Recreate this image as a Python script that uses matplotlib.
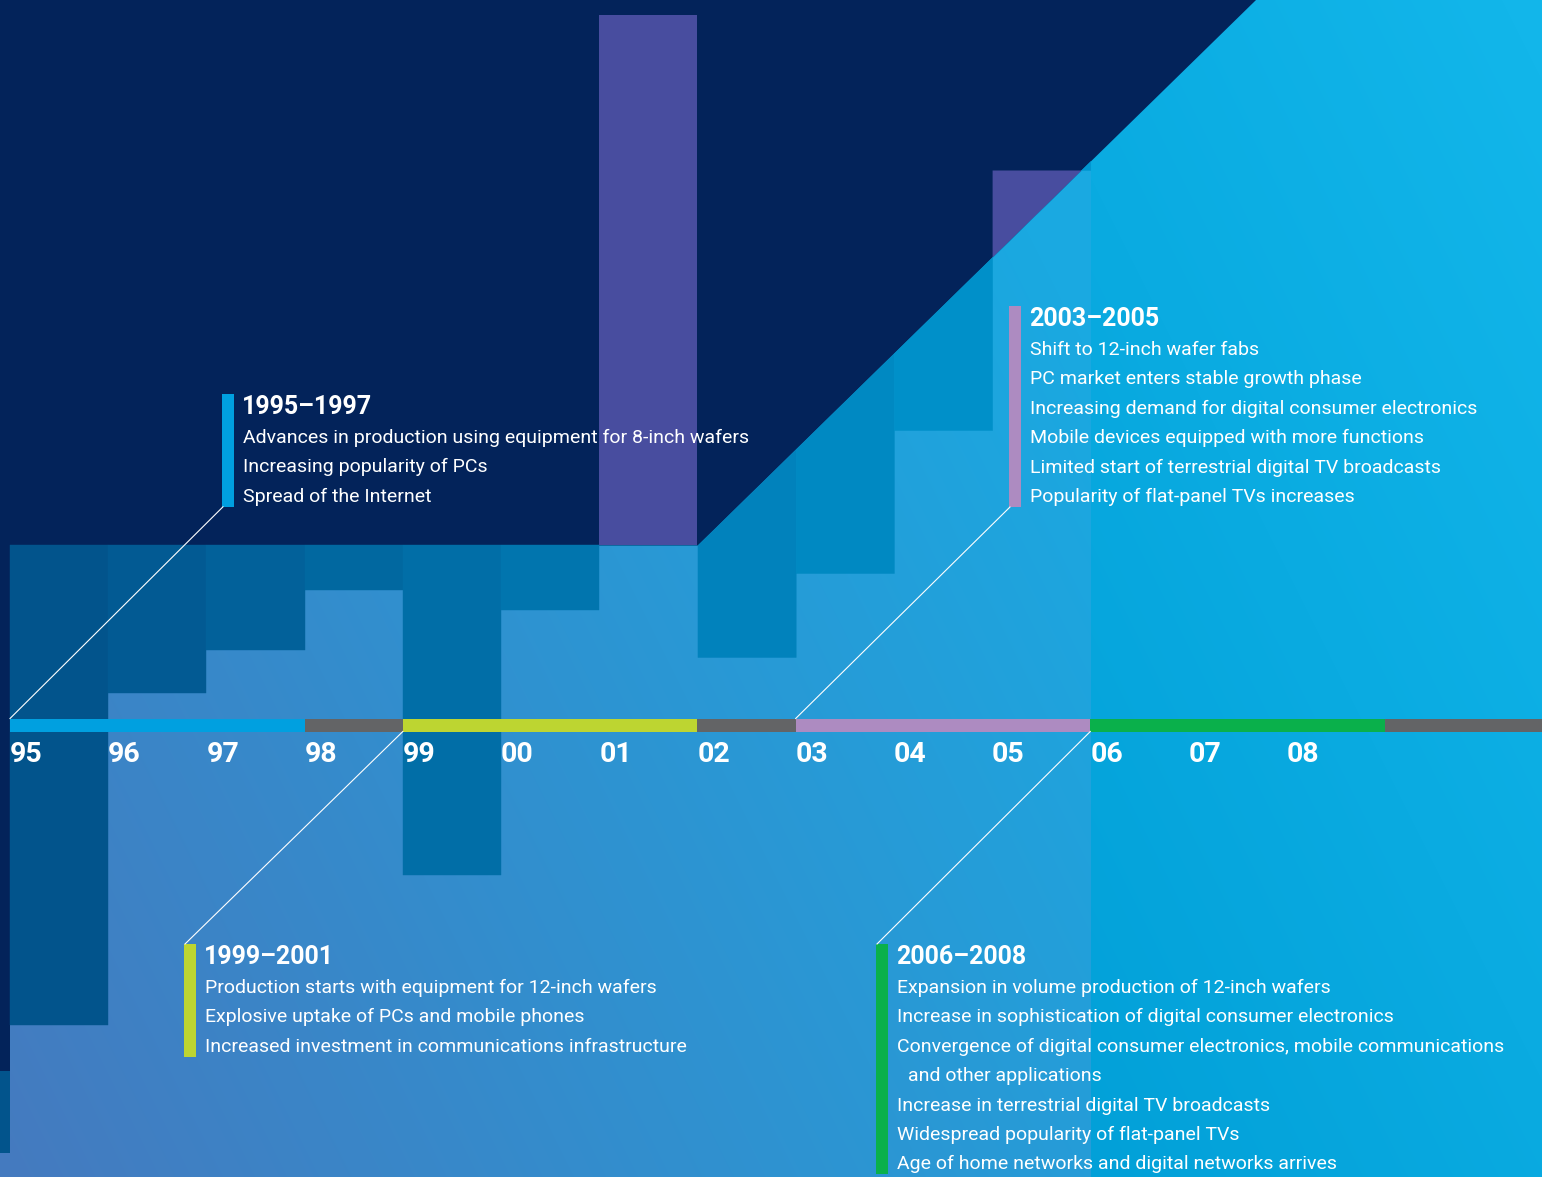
import numpy as np
import matplotlib
matplotlib.use("Agg")
import matplotlib.pyplot as plt
from matplotlib.colors import LinearSegmentedColormap, to_rgb

plt.rcParams['font.family'] = ['Roboto', 'DejaVu Sans']

# datos
years = ['95', '96', '97', '98', '99', '00', '01', '02', '03', '04', '05', '06', '07', '08']
# nivel de cada barra clara (0 = linea de tiempo), 95 a 05
bar_levels = [-300, 32, 75, 135, -150, 115, 710, 68, 152, 295, 555]
band_level = 180      # techo de la franja oscura
band_slope = 96       # subida por anio de la diagonal
band_break = 7        # la diagonal empieza en 02
lead_navy_level = -346
lead_dark_level = -428
forecast_start = 11   # desde 06 el fondo cambia

seg_start = [0, 3, 4, 7, 8, 11, 14]
seg_end = [3, 4, 7, 8, 11, 14, 16]
seg_colors = ['#00a0e0', '#636466', '#bdd531', '#636466', '#ad8bc1', '#0ab04b', '#636466']

block_titles = ['1995–1997', '1999–2001', '2003–2005', '2006–2008']
block_items = [
    ['Advances in production using equipment for 8-inch wafers',
     'Increasing popularity of PCs',
     'Spread of the Internet'],
    ['Production starts with equipment for 12-inch wafers',
     'Explosive uptake of PCs and mobile phones',
     'Increased investment in communications infrastructure'],
    ['Shift to 12-inch wafer fabs',
     'PC market enters stable growth phase',
     'Increasing demand for digital consumer electronics',
     'Mobile devices equipped with more functions',
     'Limited start of terrestrial digital TV broadcasts',
     'Popularity of flat-panel TVs increases'],
    ['Expansion in volume production of 12-inch wafers',
     'Increase in sophistication of digital consumer electronics',
     'Convergence of digital consumer electronics, mobile communications',
     ' and other applications',
     'Increase in terrestrial digital TV broadcasts',
     'Widespread popularity of flat-panel TVs',
     'Age of home networks and digital networks arrives'],
]
block_colors = ['#00a0e0', '#bdd531', '#ad8bc1', '#0ab04b']
block_anchor = [0, 4, 8, 11]   # anio donde arranca cada periodo

navy = '#03235a'
purple = '#484d9f'

# posiciones en pixeles
W, H = 1542, 1177
PX0, COLW, Y0 = 10, 98.21, 725


def dx(x):
    return (x - PX0) / COLW


def dy(y):
    return Y0 - y


def band_top(c):
    return band_level + band_slope * np.maximum(0, c - band_break)


fig = plt.figure(figsize=(W / 100, H / 100), dpi=100)
ax = fig.add_axes([0, 0, 1, 1])
ax.axis('off')
xl0, xl1 = dx(0), dx(W)
yl0, yl1 = dy(H), dy(0)

# fondo degradado
yy, xx = np.mgrid[0:H, 0:W].astype(float)
t = np.clip((xx + (H - yy) * 0.5) / 1500, 0, 1)[..., None]
c0, c1 = np.array(to_rgb('#457abf')), np.array(to_rgb('#1aa9e1'))
img = c0 + t * (c1 - c0)
t2 = np.clip(((xx - (PX0 + forecast_start * COLW)) + (H - yy) * 0.5) / 1000, 0, 1)[..., None]
r0, r1 = np.array(to_rgb('#02a0d8')), np.array(to_rgb('#12b6ea'))
img2 = r0 + t2 * (r1 - r0)
right = xx >= PX0 + forecast_start * COLW
img[right] = img2[right]
ax.imshow(img, extent=(xl0, xl1, yl0, yl1), aspect='auto', zorder=0, interpolation='bilinear')

# zona azul marino arriba
xs = np.linspace(xl0, xl1, 1500)
ax.fill_between(xs, np.minimum(band_top(xs), yl1 + 20), yl1 + 20, color=navy, lw=0, zorder=1)
ax.fill_between([xl0 - 1, 0], lead_navy_level, yl1 + 20, color=navy, lw=0, zorder=1)

# franja oscura y barras
dark_cmap = LinearSegmentedColormap.from_list('dark', ['#02548c', '#0096d0'])
ax.fill_between([xl0 - 1, 0], lead_dark_level, lead_navy_level, color=dark_cmap(0), lw=0, zorder=1)
for c, lev in enumerate(bar_levels):
    xc = np.linspace(c, c + 1, 200)
    top = band_top(xc)
    col = dark_cmap(c / (len(bar_levels) - 1))
    ax.fill_between(xc, np.minimum(lev, top), top, color=col, lw=0.3, edgecolor=col, zorder=2)
    if np.any(lev > top):
        ax.fill_between(xc, top, np.maximum(lev, top), color=purple, lw=0, zorder=2)

# linea de tiempo
ax.broken_barh([(s, e - s) for s, e in zip(seg_start, seg_end)], (-6.5, 13),
               facecolors=seg_colors, zorder=4)
for i, lab in enumerate(years):
    ax.text(i, -30, lab, ha='left', va='center', fontsize=20.5, weight='bold',
            color='white', zorder=5)

# bloques de texto
block_pos = [(222, 394), (184, 944), (1009, 306), (876, 944)]
for k in range(4):
    bx, btop = block_pos[k]
    items = block_items[k]
    ty = btop + 13
    ys = [ty + 31 + 29.4 * j for j in range(len(items))]
    bbot = ys[-1] + 10
    ax.fill_between([dx(bx), dx(bx + 12)], dy(bbot), dy(btop), color=block_colors[k], lw=0, zorder=4)
    ax.text(dx(bx + 20), dy(ty), block_titles[k], ha='left', va='center', fontsize=18,
            weight='bold', color='white', zorder=5)
    for j, it in enumerate(items):
        off = 11 if it.startswith(' ') else 0
        ax.text(dx(bx + 21 + off), dy(ys[j]), it.strip(), ha='left', va='center', fontsize=14,
                color='white', zorder=5)
    # conector a la linea de tiempo
    a = block_anchor[k]
    if btop < Y0:
        ax.plot([a, dx(bx + 1)], [6.5, dy(bbot)], color='white', lw=0.8, zorder=5)
    else:
        ax.plot([a, dx(bx + 1)], [-6.5, dy(btop)], color='white', lw=0.8, zorder=5)

ax.set_xlim(xl0, xl1)
ax.set_ylim(yl0, yl1)
plt.savefig('out.png', dpi=100)
